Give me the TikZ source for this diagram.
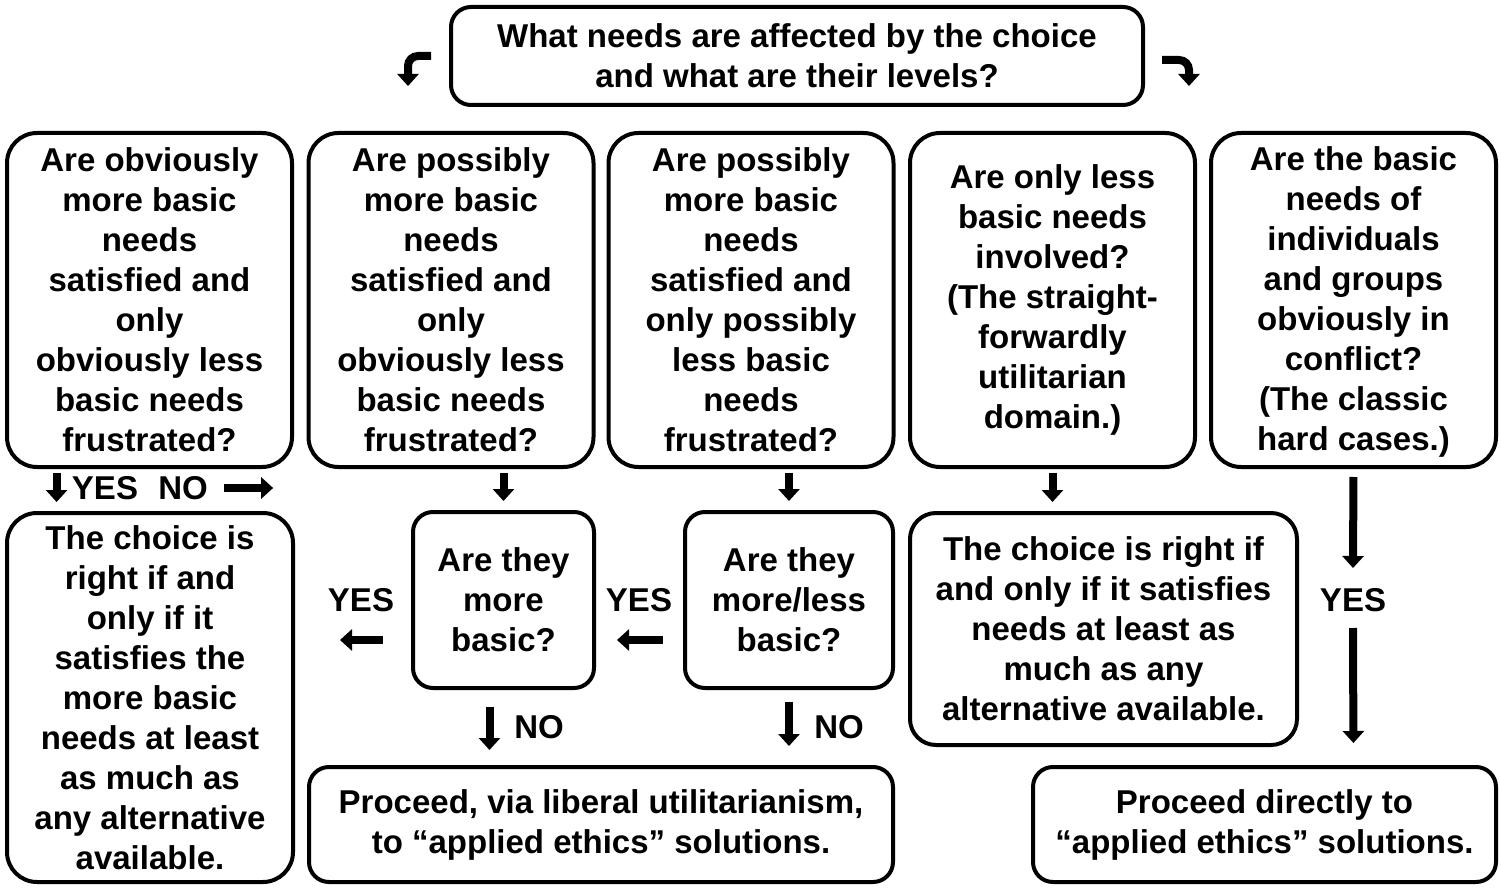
\documentclass[tikz,border=0pt]{standalone}
\usepackage{fontspec}
\setmainfont{Liberation Sans}
\usetikzlibrary{arrows.meta}
\tikzset{
  box/.style={draw, line width=2pt, rounded corners=10pt, align=center, inner sep=0pt,
    font=\bfseries\fontsize{16.5}{20}\selectfont},
  bigbox/.style={box, rounded corners=15pt, minimum width=142.5pt, minimum height=167pt},
  lbl/.style={inner sep=0pt, font=\bfseries\fontsize{16.5}{20}\selectfont},
  blockarrow/.style={line width=4pt, -{Triangle[length=6pt,width=10.5pt]}},
}
\begin{document}
\begin{tikzpicture}[x=0.5pt,y=-0.5pt]

\fill[white] (0,0) rectangle (1501,888);
\useasboundingbox (0,0) rectangle (1501,888);

% Question at the top
\node[box, minimum width=346pt, minimum height=49pt] (top) at (797,56)
  {What needs are affected by the choice\\and what are their levels?};

% First row of questions
\node[bigbox] (obvmore) at (149.5,300)
  {Are obviously\\more basic\\needs\\satisfied and\\only\\obviously less\\basic needs\\frustrated?};
\node[bigbox] (posmore) at (451,300)
  {Are possibly\\more basic\\needs\\satisfied and\\only\\obviously less\\basic needs\\frustrated?};
\node[bigbox] (posboth) at (751,300)
  {Are possibly\\more basic\\needs\\satisfied and\\only possibly\\less basic\\needs\\frustrated?};
\node[bigbox] (lessonly) at (1052.5,300)
  {Are only less\\basic needs\\involved?\\(The straight-\\forwardly\\utilitarian\\domain.)};
\node[bigbox] (conflict) at (1353.5,300)
  {\strut Are the basic\\needs of\\individuals\\and groups\\obviously in\\conflict?\\(The classic\\hard cases.)};

% Second row
\node[box, rounded corners=15pt, minimum width=143pt, minimum height=184.5pt] (rule) at (150,697.5)
  {The choice is\\right if and\\only if it\\satisfies the\\more basic\\needs at least\\as much as\\any alternative\\available.};
\node[box, minimum width=90.5pt, minimum height=88pt] (moreq) at (503.5,600)
  {Are they\\more\\basic?};
\node[box, minimum width=104pt, minimum height=88pt] (morelessq) at (789,600)
  {Are they\\more/less\\basic?};
\node[box, rounded corners=13pt, minimum width=193.5pt, minimum height=116pt] (utilrule) at (1103.5,629)
  {The choice is right if\\and only if it satisfies\\needs at least as\\much as any\\alternative available.};

% Bottom row
\node[box, minimum width=292pt, minimum height=57.5pt] (liberal) at (601,824.5)
  {Proceed, via liberal utilitarianism,\\to “applied ethics” solutions.};
\node[box, minimum width=231.5pt, minimum height=57.5pt] (direct) at (1264.5,824.5)
  {Proceed directly to\\“applied ethics” solutions.};

% Text Node
\node[lbl] (yes1) at (105,488) {YES};
\node[lbl] (no1) at (183,488) {NO};
\node[lbl] (yes2) at (361,600) {YES};
\node[lbl] (yes3) at (639,600) {YES};
\node[lbl] (no2) at (539,727) {NO};
\node[lbl] (no3) at (839,727) {NO};
\node[lbl] (yes4) at (1353,600) {YES};

% bent arrows at the top
\draw[blockarrow, rounded corners=5pt] ([xshift=-9pt]top.west) -- ++(-23,0) -- ++(0,30);
\draw[blockarrow, rounded corners=5pt] ([xshift=8.5pt,yshift=-2pt]top.east) -- ++(27,0) -- ++(0,26);

% Straight arrows
\draw[blockarrow, shorten <=2pt, shorten >=4.5pt]
  ([xshift=-7.5pt]obvmore.south -| yes1.west) -- ([xshift=-7.5pt]rule.north -| yes1.west);
\draw[blockarrow] ([xshift=8pt]no1.east) -- ++(49,0);
\draw[blockarrow, shorten <=2pt, shorten >=4.5pt] (posmore.south -| moreq) -- (moreq.north);
\draw[blockarrow, shorten <=2pt, shorten >=4.5pt] (posboth.south -| morelessq) -- (morelessq.north);
\draw[blockarrow, shorten <=2pt, shorten >=4.5pt] (lessonly.south) -- (lessonly.south |- utilrule.north);
\draw[blockarrow, shorten <=10pt, shorten >=10.5pt]
  ([yshift=-20pt]morelessq.west) -- ([yshift=-20pt]moreq.east);
\draw[blockarrow, shorten <=14pt, shorten >=22.5pt]
  ([yshift=-20pt]moreq.west) -- ([yshift=-20pt]moreq.west -| rule.east);
\draw[blockarrow, shorten <=8.5pt, shorten >=7.5pt]
  ([xshift=-7pt]moreq.south) -- ([xshift=-7pt]moreq.south |- liberal.north);
\draw[blockarrow, shorten <=6pt, shorten >=9.5pt]
  (morelessq.south) -- (morelessq.south |- liberal.north);
\draw[blockarrow, shorten <=4pt] (conflict.south) -- ([yshift=16pt]yes4.center);
\draw[blockarrow, shorten >=11pt] ([yshift=-14pt]yes4.center) -- (conflict.south |- direct.north);

\end{tikzpicture}
\end{document}
